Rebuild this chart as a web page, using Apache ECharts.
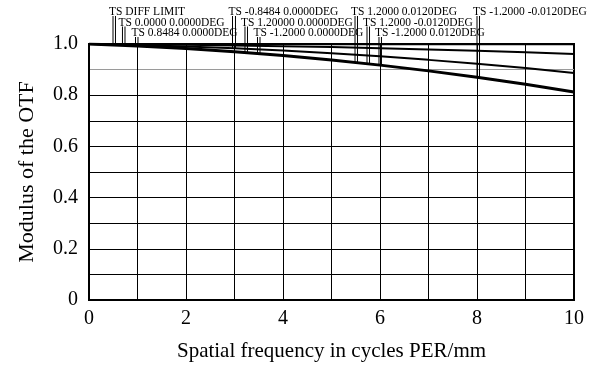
<!DOCTYPE html>
<html>
<head>
<meta charset="utf-8">
<script src="https://cdn.jsdelivr.net/npm/echarts@6/dist/echarts.min.js"></script>
<style>
  html, body { margin: 0; padding: 0; background: #fff; }
  #chart { width: 594px; height: 369px; }
</style>
</head>
<body>
<div id="chart"></div>
<script>
// Spatial frequency samples (cycles/mm)
const freq = [0, 1, 2, 3, 4, 5, 6, 7, 8, 9, 10];

// MTF curves (tangential and sagittal coincide within line width)
const diffLimit = [1.000, 0.9999, 0.9998, 0.9997, 0.9996, 0.9995, 0.9994, 0.9993, 0.9992, 0.9991, 0.999];
const field000  = [1.000, 0.9987, 0.997, 0.9946, 0.9916, 0.988, 0.9838, 0.979, 0.9736, 0.9676, 0.961];
const field0848 = [1.000, 0.996, 0.9905, 0.983, 0.9745, 0.964, 0.952, 0.938, 0.923, 0.906, 0.887];
const field120  = [1.000, 0.9925, 0.9825, 0.970, 0.955, 0.9375, 0.9175, 0.895, 0.870, 0.8425, 0.8125];

// Curve annotations: name, leader frequencies (T, S), curve they point to, text row
const tagNames = [
  'TS DIFF LIMIT',
  'TS 0.0000 0.0000DEG',
  'TS 0.8484 0.0000DEG',
  'TS -0.8484 0.0000DEG',
  'TS 1.20000 0.0000DEG',
  'TS -1.2000 0.0000DEG',
  'TS 1.2000 0.0120DEG',
  'TS 1.2000 -0.0120DEG',
  'TS -1.2000 0.0120DEG',
  'TS -1.2000 -0.0120DEG'
];
const tagFreqT = [0.495, 0.690, 0.959, 2.959, 3.216, 3.474, 5.485, 5.732, 5.979, 8.000];
const tagFreqS = [0.546, 0.742, 1.010, 3.020, 3.268, 3.526, 5.536, 5.784, 6.030, 8.052];
const tagCurve = ['diff', 'f000', 'f0848', 'f0848', 'f120', 'f120', 'f120', 'f120', 'f120', 'f120'];
const tagRow   = [0, 1, 2, 0, 1, 2, 0, 1, 2, 0];

// Tick labels
const xTickLabels = ['0', '2', '4', '6', '8', '10'];
const yTickLabels = ['0', '0.2', '0.4', '0.6', '0.8', '1.0'];

const curves = { diff: diffLimit, f000: field000, f0848: field0848, f120: field120 };

function curveAt(arr, f) {
  const i = Math.min(Math.floor(f), freq.length - 2);
  const t = (f - freq[i]) / (freq[i + 1] - freq[i]);
  return arr[i] + (arr[i + 1] - arr[i]) * t;
}

const serif = 'Liberation Serif, Times New Roman, serif';

function pairs(arr) { return freq.map((f, i) => [f, arr[i]]); }

const tagData = tagNames.map((n, i) => [
  tagFreqT[i], tagFreqS[i],
  curveAt(curves[tagCurve[i]], tagFreqT[i]),
  curveAt(curves[tagCurve[i]], tagFreqS[i]),
  tagRow[i], i
]);

const rowTextOffset = [32, 21.5, 11];

const chart = echarts.init(document.getElementById('chart'));
chart.setOption({
  animation: false,
  backgroundColor: '#fff',
  grid: {
    left: 89, top: 44, width: 485, height: 256,
    show: true, borderColor: '#000', borderWidth: 2, backgroundColor: 'transparent'
  },
  xAxis: {
    type: 'value', min: 0, max: 10, interval: 1,
    name: 'Spatial frequency in cycles PER/mm',
    nameLocation: 'middle', nameGap: 41,
    nameTextStyle: { fontFamily: serif, fontSize: 21, color: '#000' },
    axisLine: { show: true, lineStyle: { color: '#000', width: 2 } },
    axisTick: { show: false },
    axisLabel: {
      fontFamily: serif, fontSize: 20, color: '#000', margin: 9,
      formatter: v => xTickLabels.includes(String(v)) ? String(v) : ''
    },
    splitLine: { show: true, lineStyle: { color: '#000', width: 1 } }
  },
  yAxis: {
    type: 'value', min: 0, max: 1, interval: 0.1,
    name: 'Modulus of the OTF',
    nameLocation: 'middle', nameGap: 51,
    nameTextStyle: { fontFamily: serif, fontSize: 22, color: '#000' },
    axisLine: { show: true, lineStyle: { color: '#000', width: 2 } },
    axisTick: { show: false },
    axisLabel: {
      fontFamily: serif, fontSize: 20, color: '#000', margin: 11,
      formatter: v => {
        const s = v === 0 ? '0' : v.toFixed(1);
        return yTickLabels.includes(s) ? s : '';
      }
    },
    splitLine: {
      show: true,
      lineStyle: {
        width: 1,
        color: ['#000', '#000', '#000', '#000', '#000', '#000', '#000', '#000', '#000', '#9a9a9a', '#000']
      }
    }
  },
  series: [
    { name: 'TS DIFF LIMIT', type: 'line', data: pairs(diffLimit), showSymbol: false,
      lineStyle: { color: '#000', width: 2 }, z: 3 },
    { name: 'TS 0.0000 0.0000DEG', type: 'line', data: pairs(field000), showSymbol: false,
      lineStyle: { color: '#000', width: 2 }, z: 3 },
    { name: 'TS 0.8484 0.0000DEG', type: 'line', data: pairs(field0848), showSymbol: false,
      lineStyle: { color: '#000', width: 2 }, z: 3 },
    { name: 'TS 1.2000 0.0000DEG', type: 'line', data: pairs(field120), showSymbol: false,
      lineStyle: { color: '#000', width: 3 }, z: 3 },
    {
      type: 'custom',
      data: tagData,
      clip: false,
      z: 4,
      renderItem: (params, api) => {
        const fT = api.value(0), fS = api.value(1);
        const vT = api.value(2), vS = api.value(3);
        const row = api.value(4), idx = api.value(5);
        const top = api.coord([0, 1])[1];
        const textY = top - rowTextOffset[row];
        const lineTop = textY + 4;
        const pT = api.coord([fT, vT]);
        const pS = api.coord([fS, vS]);
        const ls = { stroke: '#000', lineWidth: 1 };
        return {
          type: 'group',
          children: [
            { type: 'line', shape: { x1: pT[0], y1: lineTop, x2: pT[0], y2: pT[1] }, style: ls },
            { type: 'line', shape: { x1: pS[0], y1: lineTop, x2: pS[0], y2: pS[1] }, style: ls },
            { type: 'text', x: pT[0] - 4, y: textY,
              style: { text: tagNames[idx], fill: '#000', font: '11.5px ' + serif,
                       textAlign: 'left', textVerticalAlign: 'middle' } }
          ]
        };
      }
    }
  ]
});
</script>
</body>
</html>
